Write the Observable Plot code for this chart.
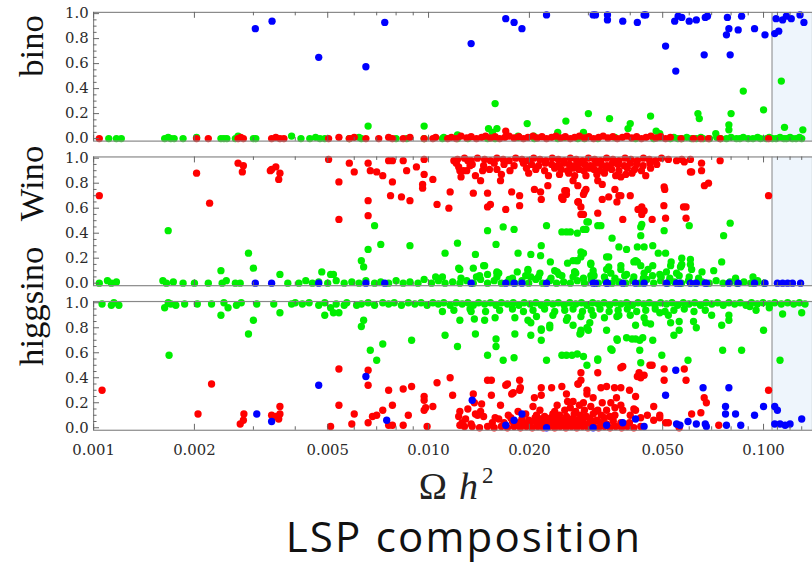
<!DOCTYPE html>
<html><head><meta charset="utf-8">
<script src="https://cdn.jsdelivr.net/npm/d3@7"></script>
<script src="https://cdn.jsdelivr.net/npm/@observablehq/plot@0.6"></script>
<style>
body{margin:0;background:#fff;}
#wrap{position:relative;width:812px;height:565px;overflow:hidden;background:#fff;}
#chart{position:absolute;left:0;top:0;width:812px;height:472px;overflow:hidden;}
#xlabel{position:absolute;left:356px;top:467px;width:200px;text-align:center;font-family:"Liberation Serif",serif;font-size:38px;line-height:38px;color:#222;white-space:nowrap;}
#xlabel span{display:inline-block;}
#xlabel .h{font-style:italic;margin-left:12px;}
#xlabel .sq{font-size:23px;position:relative;top:-16px;margin-left:4px;}
#caption{position:absolute;left:214px;top:515px;width:500px;text-align:center;font-family:"Open Sans",sans-serif;font-size:42px;line-height:42px;letter-spacing:2.2px;color:#111;white-space:nowrap;}
</style></head>
<body>
<div id="wrap">
<div id="chart"></div>
<div id="xlabel"><span>Ω</span><span class="h">h</span><span class="sq">2</span></div>
<div id="caption">LSP composition</div>
</div>
<script>
const panels = ["bino", "Wino", "higgsino"];
const seriesNames = ["higgsino-like", "Wino-like", "bino-like"];
const seriesColors = ["#00ee00", "#ff0000", "#0000ff"];
const xTickLabels = [0.001, 0.002, 0.005, 0.010, 0.020, 0.050, 0.100];
const xMinorTicks = [0.003, 0.004, 0.006, 0.007, 0.008, 0.009, 0.03, 0.04, 0.06, 0.07, 0.08, 0.09, 0.11, 0.12, 0.13];
const yTickLabels = [0, 0.2, 0.4, 0.6, 0.8, 1.0];
const yMinorTicks = [0.05, 0.1, 0.15, 0.25, 0.3, 0.35, 0.45, 0.5, 0.55, 0.65, 0.7, 0.75, 0.85, 0.9, 0.95];
const relicBand = [0.106, 0.14];

// ---- bino panel ----
const binoGreen = [[0.0066,0.10],[0.0097,0.10],[0.0158,0.28],[0.0151,0.08],[0.016,0.08],[0.0155,0.05],[0.0197,0.12],[0.0257,0.14],[0.030,0.20],[0.0243,0.05],[0.029,0.05],[0.0206,0.02],[0.0185,0.02],[0.0122,0.03],[0.0347,0.16],[0.040,0.12],[0.0394,0.08],[0.046,0.18],[0.0637,0.20],[0.0643,0.16],[0.080,0.20],[0.0788,0.11],[0.0788,0.07],[0.087,0.38],[0.100,0.23],[0.113,0.46],[0.1155,0.09],[0.131,0.07],[0.0478,0.06],[0.049,0.04],[0.072,0.04],[0.0027,0.02],[0.0039,0.02],
[0.00111,0.0],[0.00117,0.0],[0.00121,0.0],[0.00163,0.0],[0.00167,0.01],[0.0017,0.0],[0.00174,0.0],[0.00185,0.0],[0.00203,0.01],[0.0024,0.0],[0.00245,0.0],[0.0025,0.0],[0.00265,0.0],[0.003,0.0],[0.00305,0.0],
[0.00416,0.0],[0.00442,0.0],[0.0046,0.01],[0.00474,0.0],[0.0049,0.0],[0.0058,0.0],[0.0062,0.01],[0.0063,0.0],[0.008,0.0],[0.0086,0.0],[0.0097,0.0],[0.011,0.0],[0.0111,0.01],[0.0122,0.0],[0.0131,0.0],[0.015,0.0],[0.0158,0.0],[0.0185,0.01],[0.0207,0.0],[0.0243,0.0],[0.0255,0.01],[0.0279,0.0],[0.0292,0.0],
[0.032,0.0],[0.036,0.01],[0.0415,0.0],[0.047,0.0],[0.049,0.01],[0.0527,0.0],[0.054,0.01],[0.0555,0.0],[0.057,0.0],[0.059,0.01],[0.061,0.0],[0.063,0.0],[0.065,0.01],[0.066,0.0],[0.069,0.0],[0.0725,0.01],[0.0745,0.0],[0.0775,0.0],[0.080,0.01],[0.083,0.0],[0.085,0.0],[0.087,0.01],[0.090,0.0],[0.093,0.0],[0.096,0.01],[0.098,0.0],[0.102,0.0],[0.104,0.01],[0.1063,0.0],[0.109,0.0],[0.112,0.01],[0.115,0.0],[0.117,0.0],[0.120,0.01],[0.122,0.0],[0.125,0.0],[0.128,0.01],[0.130,0.0]];
const binoRed = [[0.00104,0.0],[0.00203,0.0],[0.0022,0.0],[0.0027,0.0],[0.00275,0.01],[0.0028,0.0],[0.0034,0.0],[0.0035,0.01],[0.0036,0.0],[0.0037,0.0],[0.017,0.06],
[0.00503,0.0],[0.0054,0.01],[0.0058,0.0],[0.006,0.01],[0.0065,0.0],[0.0071,0.0],[0.0076,0.01],[0.0078,0.0],[0.0084,0.0],[0.0088,0.01],[0.0097,0.0],[0.0103,0.0],[0.0105,0.01],[0.0114,0.0],
[0.0117,0.01],[0.0121,0.0],[0.0125,0.02],[0.013,0.005],[0.0134,0.015],[0.0139,0.0],[0.0144,0.01],[0.0148,0.02],[0.0153,0.005],[0.0158,0.015],[0.0163,0.0],[0.0169,0.01],[0.0174,0.02],[0.018,0.005],[0.0186,0.015],[0.0192,0.0],[0.0198,0.01],[0.0205,0.02],[0.0211,0.005],[0.0218,0.015],[0.0225,0.0],[0.0233,0.01],[0.024,0.02],[0.0248,0.005],[0.0256,0.015],[0.0265,0.0],[0.0273,0.01],[0.0282,0.02],[0.0292,0.005],[0.0301,0.015],[0.0311,0.0],[0.0322,0.01],[0.0332,0.02],[0.0343,0.005],[0.0355,0.015],[0.0366,0.0],[0.0379,0.01],[0.0391,0.02],[0.0404,0.005],[0.0418,0.015],[0.0432,0.0],[0.0446,0.01],[0.0461,0.02],[0.0477,0.005],[0.0493,0.015],[0.051,0.0],[0.0527,0.01],
[0.0567,0.0],[0.0618,0.0],[0.065,0.0],[0.0685,0.0],[0.0742,0.0],[0.1035,0.0]];
const binoBlue = [[0.00304,0.88],[0.00341,0.94],[0.0047,0.65],[0.0065,0.575],[0.0074,0.93],[0.0134,0.76],[0.017,0.96],[0.018,0.93],[0.019,0.88],[0.0225,0.99],[0.031,0.99],[0.0315,0.99],[0.0342,0.99],[0.0342,0.95],[0.038,0.94],[0.042,0.93],[0.044,0.99],[0.0445,0.99],[0.051,0.74],[0.0547,0.54],[0.0543,0.94],[0.0556,0.98],[0.057,0.97],[0.060,0.94],[0.063,0.95],[0.067,0.97],[0.068,0.98],[0.0665,0.67],[0.078,0.97],[0.0788,0.88],[0.0775,0.83],[0.0795,0.67],[0.084,0.87],[0.086,0.98],[0.094,0.88],[0.101,0.83],[0.108,0.84],[0.109,0.96],[0.111,0.86],[0.114,0.95],[0.117,0.98],[0.121,0.96],[0.1285,0.99],[0.132,0.93]];

// ---- Wino panel ----
const winoGreen = [[0.00104,0.0],[0.0011,0.02],[0.00113,0.0],[0.00117,0.01],[0.00161,0.02],[0.00167,0.42],[0.00165,0.0],[0.00173,0.01],[0.00185,0.0],[0.002,0.0],[0.0022,0.0],[0.0024,0.10],[0.00242,0.0],[0.00249,0.02],[0.00265,0.0],[0.00274,0.0],[0.0029,0.24],[0.003,0.12],[0.0036,0.07],[0.0038,0.0],
[0.0069,0.46],[0.0072,0.31],[0.0066,0.27],[0.0063,0.18],[0.0064,0.13],[0.0088,0.30],[0.0122,0.32],[0.0112,0.24],[0.0138,0.23],[0.015,0.42],[0.0159,0.31],[0.0167,0.45],[0.018,0.43],[0.0225,0.46],[0.0217,0.30],[0.0185,0.24],[0.0202,0.23],[0.0216,0.22],[0.0231,0.17],[0.025,0.41],[0.0258,0.41],[0.0265,0.41],[0.0278,0.40],[0.0297,0.49],[0.0295,0.43],[0.0285,0.25],[0.027,0.18],[0.026,0.16],[0.0305,0.15],[0.0048,0.09],[0.0051,0.07],[0.0052,0.07],[0.0123,0.12],[0.0136,0.12],[0.0146,0.14],[0.015,0.07],[0.016,0.08],[0.0162,0.08],[0.0184,0.09],[0.0198,0.10],[0.0202,0.05],[0.0242,0.09],[0.0285,0.21],[0.0278,0.18],[0.0273,0.09],[0.0305,0.06],
[0.029,0.43],[0.030,0.49],[0.0327,0.46],[0.0353,0.36],[0.037,0.29],[0.039,0.27],[0.042,0.29],[0.044,0.29],[0.043,0.38],[0.0433,0.47],[0.0467,0.30],[0.0485,0.24],[0.0505,0.42],[0.051,0.24],[0.060,0.46],[0.076,0.38],[0.0795,0.48],[0.075,0.17],[0.071,0.10],[0.057,0.20],[0.053,0.17],[0.029,0.24],[0.0277,0.18],[0.0305,0.16],[0.0345,0.21],[0.0345,0.13],[0.0375,0.14],[0.042,0.17],[0.043,0.14],[0.0467,0.14],[0.0528,0.14],[0.0568,0.14],[0.0605,0.15],[0.061,0.11],[0.0655,0.09],[0.0825,0.04],[0.093,0.05],[0.096,0.02],
[0.0124,0.11],[0.0147,0.14],[0.032,0.46],[0.034,0.21],[0.041,0.17],[0.043,0.45],[0.0565,0.13],[0.011,0.05],[0.0139,0.05],[0.016,0.09],[0.0174,0.03],[0.0198,0.11],[0.0238,0.10],[0.0273,0.09],[0.031,0.10],[0.034,0.11],[0.0375,0.11],[0.0415,0.18],[0.0452,0.11],[0.0513,0.09],[0.057,0.15],[0.0605,0.19],
[0.0041,0.0],[0.0043,0.02],[0.0045,0.0],[0.0047,0.01],[0.0050,0.0],[0.0053,0.02],[0.0056,0.0],[0.0059,0.01],[0.0062,0.0],[0.0065,0.02],[0.0069,0.0],[0.0072,0.01],[0.0076,0.0],[0.0080,0.02],[0.0084,0.0],[0.0088,0.01],[0.0093,0.0],[0.0097,0.03],[0.0102,0.0],[0.0107,0.02],[0.0112,0.0],[0.0118,0.01],[0.0124,0.0],[0.013,0.02],[0.0136,0.0],[0.0143,0.03],[0.015,0.0],[0.0157,0.02],[0.0165,0.0],[0.0173,0.01],[0.0181,0.0],[0.019,0.02],[0.0199,0.0],[0.0209,0.03],[0.0219,0.0],[0.023,0.02],[0.0241,0.0],[0.0253,0.01],[0.0265,0.0],[0.0278,0.02],[0.0292,0.0],[0.0306,0.03],[0.0321,0.0],[0.0337,0.02],[0.0353,0.0],[0.037,0.01],[0.0388,0.0],[0.0407,0.02],[0.0427,0.0],[0.0448,0.03],[0.047,0.0],[0.0493,0.02],[0.0517,0.0],[0.0542,0.01],[0.0569,0.0],[0.0597,0.02],[0.0626,0.0],[0.0656,0.01],[0.0688,0.0],[0.0722,0.02],[0.0757,0.0],[0.0794,0.01],[0.0833,0.0],[0.0874,0.01],[0.0916,0.0],[0.096,0.01],[0.1005,0.0],
[0.0105,0.05],[0.0125,0.04],[0.0142,0.06],[0.016,0.05],[0.0178,0.04],[0.0195,0.06],[0.0213,0.05],[0.0232,0.04],[0.025,0.06],[0.027,0.05],[0.029,0.04],[0.0312,0.06],[0.0335,0.05],[0.036,0.04],[0.0385,0.06],[0.041,0.05],[0.0438,0.04],[0.0466,0.06],[0.0495,0.05],[0.0525,0.04],[0.056,0.06],[0.060,0.05],[0.064,0.04],
[0.0215,0.08],[0.0245,0.07],[0.0275,0.08],[0.031,0.07],[0.035,0.08],[0.039,0.07],[0.044,0.08],[0.049,0.07],[0.055,0.08]];
const winoRed = [[0.00104,0.70],[0.00203,0.88],[0.00222,0.64],[0.0027,0.96],[0.0028,0.94],[0.00278,0.89],[0.00337,0.90],[0.0034,0.91],[0.0035,0.93],[0.0036,0.88],[0.00357,0.83],
[0.00503,0.99],[0.0058,0.96],[0.0066,0.96],[0.006,0.89],[0.0054,0.81],[0.0054,0.51],[0.0067,0.90],[0.007,0.89],[0.0073,0.86],[0.0066,0.66],[0.0066,0.54],[0.0076,0.98],[0.0078,0.98],[0.0078,0.81],[0.0077,0.70],[0.0084,0.98],[0.0086,0.90],[0.0083,0.69],[0.0088,0.66],[0.0092,0.93],[0.0097,0.99],[0.0097,0.87],[0.0096,0.79],[0.0096,0.76],[0.0103,0.83],[0.0106,0.63],[0.0115,0.60],[0.0116,0.73],
[0.0119,0.98],[0.0121,0.96],[0.0123,0.93],[0.0127,0.90],[0.0131,0.98],[0.0133,0.94],[0.0124,0.90],[0.0125,0.85],[0.013,0.90],[0.0136,0.72],[0.0138,0.86],[0.0143,0.82],[0.0145,0.90],[0.015,0.72],[0.015,0.61],[0.0153,0.63],[0.0164,0.82],[0.016,0.91],[0.017,0.59],[0.0177,0.73],[0.0187,0.70],[0.0187,0.62],[0.0207,0.75],[0.0216,0.73],[0.0217,0.67],[0.0227,0.78],[0.0252,0.67],[0.0258,0.74],[0.0279,0.65],[0.0285,0.55],[0.0292,0.73],
[0.057,0.99],[0.058,0.97],[0.0653,0.96],[0.0653,0.90],[0.061,0.89],[0.0742,0.98],[0.0685,0.80],[0.0666,0.78],[0.0507,0.75],[0.1035,0.70],[0.0504,0.62],[0.0587,0.61],[0.051,0.52],[0.0587,0.52],[0.0465,0.51],[0.038,0.51],[0.0433,0.61],[0.044,0.58],[0.0422,0.59],[0.0433,0.55],[0.040,0.70],[0.036,0.75],[0.037,0.70],[0.0375,0.70],[0.0365,0.65],[0.033,0.67],[0.0345,0.69],[0.032,0.56],[0.029,0.55],[0.028,0.65],[0.025,0.68],[0.0255,0.74],[0.029,0.71],[0.0295,0.75],[0.032,0.82],[0.033,0.79],[0.0375,0.85],
[0.0273,0.86],[0.027,0.82],[0.0279,0.78],[0.0258,0.71],[0.025,0.69],[0.028,0.65],[0.0285,0.61],[0.0505,0.77],[0.0577,0.61],[0.0605,0.89],
[0.0122,0.99],[0.0128,1.0],[0.0134,0.98],[0.014,1.0],[0.0147,0.99],[0.0153,0.98],[0.016,1.0],[0.0167,0.99],[0.0174,0.98],[0.0182,1.0],[0.019,0.99],[0.0198,0.98],[0.0206,1.0],[0.0215,0.99],[0.0224,0.98],[0.0234,1.0],[0.0244,0.99],[0.0254,0.98],[0.0265,1.0],[0.0276,0.99],[0.0288,0.98],[0.030,1.0],[0.0313,0.99],[0.0326,0.98],[0.034,1.0],[0.0355,0.99],[0.037,0.98],[0.0386,1.0],[0.0402,0.99],[0.042,0.98],[0.0438,1.0],[0.0456,0.99],[0.0476,0.98],[0.0496,1.0],[0.052,0.99],[0.055,0.98],[0.0605,0.99],
[0.0135,0.95],[0.0146,0.94],[0.0157,0.96],[0.0168,0.95],[0.018,0.94],[0.0192,0.96],[0.0203,0.95],[0.0213,0.94],[0.0223,0.96],[0.0233,0.95],[0.0243,0.94],[0.0253,0.96],[0.0263,0.95],[0.0273,0.94],[0.0283,0.96],[0.0293,0.95],[0.0304,0.94],[0.0316,0.96],[0.0328,0.95],[0.0341,0.94],[0.0354,0.96],[0.0368,0.95],[0.0384,0.94],[0.040,0.96],[0.0418,0.95],[0.0437,0.94],[0.0458,0.96],[0.048,0.95],
[0.0152,0.91],[0.0175,0.90],[0.0196,0.92],[0.0209,0.91],[0.0222,0.90],[0.0238,0.92],[0.0249,0.91],[0.026,0.90],[0.027,0.92],[0.0281,0.91],[0.0291,0.90],[0.0302,0.92],[0.0312,0.91],[0.0324,0.90],[0.0338,0.92],[0.0352,0.91],[0.037,0.90],[0.0392,0.92],[0.0412,0.91],[0.0432,0.90],[0.046,0.92],
[0.0165,0.87],[0.0199,0.88],[0.0228,0.86],[0.0246,0.87],[0.0262,0.88],[0.0295,0.86],[0.0318,0.87],[0.0335,0.88],[0.0362,0.86],[0.0388,0.87],[0.0405,0.88],[0.0445,0.86]];
const winoBlue = [[0.00304,0.0],[0.0034,0.0],[0.0047,0.0],[0.0065,0.0],[0.0074,0.0],[0.0134,0.0],[0.017,0.0],[0.018,0.0],[0.019,0.0],[0.0225,0.0],[0.031,0.0],[0.0315,0.0],[0.034,0.0],[0.0342,0.0],[0.038,0.0],[0.0415,0.0],[0.044,0.0],[0.0513,0.0],[0.055,0.0],[0.0563,0.0],[0.0605,0.0],[0.063,0.0],[0.067,0.0],[0.0675,0.0],[0.0788,0.0],[0.084,0.0],[0.094,0.0],[0.101,0.0],[0.11,0.0],[0.114,0.0],[0.118,0.0],[0.122,0.0],[0.129,0.0]];

// ---- higgsino panel ----
const higgsinoGreen = [[0.00106,0.99],[0.00113,0.98],[0.00115,1.0],[0.00119,0.98],[0.00163,0.96],[0.00167,1.0],[0.0017,0.99],[0.00176,0.98],[0.00187,0.99],[0.00168,0.58],[0.00204,0.99],[0.00225,0.99],[0.00245,1.0],[0.00252,0.96],[0.0024,0.90],[0.00267,0.98],[0.00276,1.0],[0.0029,0.75],[0.003,0.86],[0.00307,0.99],[0.00345,0.99],[0.0036,0.92],[0.0039,0.99],
[0.0049,0.90],[0.0052,0.92],[0.0054,0.92],[0.0051,0.96],[0.0056,0.98],[0.0061,0.98],[0.0064,0.86],[0.0063,0.81],[0.0073,0.67],[0.0067,0.62],[0.007,0.54],[0.0089,0.70],[0.0112,0.74],[0.0122,0.65],[0.0124,0.86],[0.0138,0.75],[0.0137,0.87],[0.0147,0.86],[0.015,0.58],[0.0159,0.71],[0.0159,0.65],[0.0167,0.54],[0.018,0.56],[0.0202,0.74],[0.0217,0.78],[0.0217,0.70],[0.023,0.82],[0.0225,0.54],[0.025,0.58],[0.0258,0.58],[0.0268,0.58],[0.0278,0.59],[0.029,0.57],[0.0297,0.50],[0.0285,0.78],[0.0285,0.76],[0.030,0.78],[0.0303,0.84],[0.0258,0.86],[0.027,0.82],[0.0202,0.84],[0.0181,0.88],[0.0198,0.86],[0.0158,0.88],[0.011,0.93],[0.0134,0.93],
[0.0283,0.75],[0.0297,0.80],[0.034,0.78],[0.0366,0.70],[0.039,0.72],[0.0415,0.71],[0.0427,0.70],[0.0436,0.72],[0.0467,0.70],[0.046,0.83],[0.0415,0.82],[0.0528,0.84],[0.056,0.78],[0.056,0.85],[0.063,0.80],[0.0353,0.62],[0.032,0.54],[0.0427,0.62],[0.043,0.52],[0.0497,0.58],[0.0595,0.54],[0.0755,0.62],[0.086,0.62],[0.0788,0.90],[0.0788,0.86],[0.075,0.82],[0.100,0.78],[0.114,0.91],[0.112,0.54],[0.13,0.92],[0.104,0.96],[0.095,0.94],[0.091,0.97],[0.070,0.90],[0.0618,0.85],[0.052,0.90],[0.049,0.92],
[0.0181,0.75],[0.0217,0.79],[0.023,0.80],[0.032,0.55],[0.035,0.63],[0.037,0.90],[0.054,0.74],[0.0365,0.71],[0.0405,0.71],[0.0445,0.84],
[0.0040,1.0],[0.0042,0.99],[0.0044,1.0],[0.0047,0.98],[0.0049,1.0],[0.0053,0.99],[0.0057,1.0],[0.0063,0.99],[0.0066,1.0],[0.0069,0.98],[0.0073,1.0],[0.0076,0.99],[0.0079,1.0],[0.0083,0.98],[0.0087,1.0],[0.0091,0.99],[0.0095,1.0],[0.0099,0.98],[0.0103,1.0],[0.0107,0.99],[0.0111,1.0],[0.0116,0.98],[0.0121,1.0],[0.0126,0.99],[0.0131,1.0],[0.0136,0.98],[0.0141,1.0],[0.0147,0.99],[0.0153,1.0],[0.0159,0.98],[0.0165,1.0],[0.0172,0.99],[0.0179,1.0],[0.0186,0.98],[0.0193,1.0],[0.0201,0.99],[0.0209,1.0],[0.0217,0.98],[0.0226,1.0],[0.0235,0.99],[0.0244,1.0],[0.0254,0.98],[0.0264,1.0],[0.0275,0.99],[0.0286,1.0],[0.0297,0.98],[0.0309,1.0],[0.0321,0.99],[0.0334,1.0],[0.0347,0.98],[0.0361,1.0],[0.0375,0.99],[0.039,1.0],[0.0406,0.98],[0.0422,1.0],[0.0439,0.99],[0.0456,1.0],[0.0474,0.98],[0.0493,1.0],[0.0513,0.99],[0.0533,1.0],[0.0554,0.98],[0.0576,1.0],[0.0599,0.99],[0.0623,1.0],[0.0648,0.98],[0.0674,1.0],[0.0701,0.99],[0.0729,1.0],[0.0758,0.98],[0.0788,1.0],[0.082,0.99],[0.0852,1.0],[0.0886,0.98],[0.0921,1.0],[0.0958,0.99],[0.0996,1.0],[0.104,0.99],[0.108,1.0],[0.113,0.99],[0.118,1.0],[0.123,0.99],[0.128,1.0],[0.133,0.99],
[0.0119,0.94],[0.0133,0.95],[0.0148,0.93],[0.0163,0.94],[0.0178,0.95],[0.0192,0.93],[0.0205,0.94],[0.0222,0.95],[0.0238,0.93],[0.0255,0.94],[0.027,0.95],[0.0288,0.93],[0.0306,0.94],[0.0325,0.95],[0.0346,0.93],[0.0368,0.94],[0.0392,0.95],[0.0418,0.93],[0.0445,0.94],[0.0475,0.95],[0.0508,0.93],[0.054,0.94],[0.058,0.95],[0.062,0.93],[0.067,0.94],
[0.021,0.89],[0.0235,0.90],[0.026,0.88],[0.0285,0.89],[0.031,0.90],[0.0335,0.88],[0.0365,0.89],[0.040,0.90],[0.044,0.88]];
const higgsinoRed = [[0.00106,0.30],[0.00225,0.35],[0.00205,0.11],[0.00274,0.03],[0.0028,0.06],[0.00281,0.11],[0.0034,0.10],[0.0035,0.09],[0.0036,0.17],[0.0036,0.11],[0.00357,0.07],
[0.0054,0.47],[0.0054,0.18],[0.0051,0.01],[0.006,0.11],[0.0059,0.03],[0.0066,0.46],[0.0066,0.34],[0.0066,0.04],[0.0068,0.09],[0.007,0.10],[0.0073,0.14],[0.0076,0.30],[0.0078,0.18],[0.0076,0.02],[0.0078,0.02],[0.0084,0.31],[0.0087,0.10],[0.0089,0.33],[0.0084,0.02],[0.0097,0.25],[0.0097,0.22],[0.0098,0.16],[0.0097,0.14],[0.0103,0.17],[0.0099,0.01],[0.0106,0.36],[0.0116,0.40],[0.0118,0.26],[0.0123,0.09],[0.0124,0.02],[0.0129,0.07],[0.0131,0.15],[0.0136,0.27],[0.0137,0.20],[0.014,0.10],[0.0144,0.19],[0.015,0.38],[0.0154,0.38],[0.0146,0.09],[0.0154,0.26],[0.0158,0.08],[0.0164,0.18],[0.017,0.34],[0.0177,0.27],[0.0187,0.38],[0.0188,0.32],[0.0217,0.32],[0.0217,0.26],[0.0207,0.24],[0.025,0.33],[0.0258,0.27],[0.0279,0.35],[0.0285,0.38],[0.0297,0.30],[0.027,0.21],[0.029,0.20],
[0.028,0.35],[0.0285,0.44],[0.0297,0.27],[0.032,0.44],[0.0327,0.32],[0.034,0.33],[0.0359,0.32],[0.0364,0.24],[0.038,0.49],[0.0375,0.32],[0.0398,0.30],[0.042,0.41],[0.0425,0.44],[0.043,0.40],[0.044,0.42],[0.0465,0.50],[0.0505,0.47],[0.0505,0.38],[0.058,0.47],[0.0587,0.38],[0.0665,0.24],[0.0675,0.20],[0.061,0.11],[0.065,0.12],[0.1035,0.30],[0.0735,0.02],[0.049,0.08],[0.047,0.06],[0.0415,0.14],[0.0375,0.18],[0.036,0.16],[0.032,0.14],[0.031,0.24],[0.033,0.20],[0.040,0.10],[0.045,0.10],[0.036,0.10],[0.0557,0.02],[0.052,0.04],
[0.0172,0.35],[0.0179,0.28],[0.0187,0.30],[0.0233,0.32],[0.026,0.21],[0.0375,0.48],[0.0458,0.50],[0.0415,0.25],[0.035,0.20],[0.038,0.14],[0.041,0.15],[0.043,0.08],[0.047,0.17],[0.049,0.10],[0.051,0.04],[0.056,0.0],[0.0143,0.13],[0.0138,0.11],[0.0124,0.13],[0.0126,0.04],[0.0134,0.03],
[0.0128,0.01],[0.0135,0.01],[0.0142,0.0],[0.015,0.01],[0.0157,0.0],[0.0165,0.01],[0.0172,0.0],[0.018,0.01],[0.0188,0.0],[0.0196,0.01],[0.0204,0.0],[0.0212,0.01],[0.022,0.0],[0.0229,0.01],[0.0238,0.0],[0.0247,0.01],[0.0257,0.0],[0.0267,0.01],[0.0277,0.0],[0.0288,0.01],[0.0299,0.0],[0.031,0.01],[0.0322,0.0],[0.0335,0.01],[0.0348,0.0],[0.0362,0.01],[0.0377,0.0],[0.0392,0.01],[0.041,0.0],[0.043,0.01],
[0.0155,0.04],[0.0168,0.04],[0.0178,0.05],[0.0186,0.04],[0.0194,0.03],[0.0202,0.05],[0.021,0.04],[0.0218,0.03],[0.0226,0.05],[0.0234,0.04],[0.0243,0.03],[0.0252,0.05],[0.0261,0.04],[0.027,0.03],[0.028,0.05],[0.029,0.04],[0.0301,0.03],[0.0313,0.05],[0.0326,0.04],[0.034,0.03],[0.0356,0.05],[0.0375,0.04],[0.0398,0.04],
[0.0162,0.07],[0.0176,0.08],[0.019,0.07],[0.0199,0.06],[0.0208,0.08],[0.0216,0.07],[0.0224,0.06],[0.0232,0.08],[0.024,0.07],[0.0249,0.06],[0.0258,0.08],[0.0268,0.07],[0.0278,0.06],[0.029,0.08],[0.0303,0.07],[0.0318,0.06],[0.0335,0.08],[0.0355,0.07],
[0.0173,0.10],[0.0195,0.11],[0.021,0.10],[0.0222,0.09],[0.0235,0.11],[0.0246,0.10],[0.0258,0.09],[0.0272,0.11],[0.0284,0.10],[0.0296,0.09],[0.031,0.11],[0.0328,0.10],[0.0348,0.09],
[0.0185,0.13],[0.0215,0.14],[0.0238,0.13],[0.0255,0.14],[0.0275,0.13],[0.0292,0.14],[0.0315,0.13],[0.034,0.14],
[0.0205,0.17],[0.0242,0.18],[0.0265,0.16],[0.0282,0.18],[0.0305,0.17]];
const higgsinoBlue = [[0.00307,0.11],[0.0034,0.05],[0.0047,0.34],[0.0065,0.41],[0.0075,0.06],[0.0135,0.22],[0.017,0.02],[0.018,0.06],[0.019,0.11],[0.0225,0.0],[0.031,0.0],[0.034,0.02],[0.038,0.04],[0.0415,0.07],[0.044,0.01],[0.051,0.26],[0.0547,0.46],[0.055,0.03],[0.0563,0.02],[0.0595,0.05],[0.063,0.03],[0.066,0.32],[0.067,0.03],[0.0675,0.01],[0.077,0.17],[0.077,0.11],[0.0788,0.32],[0.0775,0.02],[0.0825,0.11],[0.0855,0.02],[0.094,0.10],[0.100,0.17],[0.108,0.17],[0.110,0.14],[0.108,0.03],[0.112,0.03],[0.116,0.02],[0.12,0.03],[0.13,0.07]];

// ---- build table (draw order: green, red, blue) ----
const rows = [];
function add(panel, series, arr) { for (const [x, y] of arr) rows.push({panel, series, x, y}); }
add("bino", "higgsino-like", binoGreen);
add("Wino", "higgsino-like", winoGreen);
add("higgsino", "higgsino-like", higgsinoGreen);
add("bino", "Wino-like", binoRed);
add("Wino", "Wino-like", winoRed);
add("higgsino", "Wino-like", higgsinoRed);
add("bino", "bino-like", binoBlue);
add("Wino", "bino-like", winoBlue);
add("higgsino", "bino-like", higgsinoBlue);

const W = 820, H = 472, mL = 94, mT = 12, mB = 38, bandH = 130, gap = 16;
const plotW = W - mL;
const bottomPanel = panels[panels.length - 1];

const chart = Plot.plot({
  width: W, height: H,
  marginLeft: mL, marginRight: 0, marginTop: mT, marginBottom: mB,
  style: {fontFamily: "DejaVu Serif", fontSize: "15px", color: "#2a2a2a", background: "transparent"},
  x: {type: "log", domain: [0.001, relicBand[1]], axis: null},
  y: {domain: [-0.02, 1.01], axis: null},
  fy: {domain: panels, paddingInner: gap / (bandH + gap), paddingOuter: 0, axis: null},
  color: {domain: seriesNames, range: seriesColors},
  marks: [
    Plot.rect([relicBand], {x1: d => d[0], x2: d => d[1], fill: "#eef5fc"}),
    Plot.ruleX([relicBand[0]], {stroke: "#999", strokeWidth: 1.2}),
    Plot.dot(rows, {x: "x", y: "y", fy: "panel", fill: "series", r: 3.7, stroke: "none"}),
    Plot.frame({stroke: "#888", strokeWidth: 1.2}),
    Plot.tickX(xTickLabels, {x: d => d, insetBottom: bandH - 6, stroke: "#666"}),
    Plot.tickX(xTickLabels, {x: d => d, insetTop: bandH - 6, stroke: "#666"}),
    Plot.tickX(xMinorTicks, {x: d => d, insetBottom: bandH - 3.5, stroke: "#666"}),
    Plot.tickX(xMinorTicks, {x: d => d, insetTop: bandH - 3.5, stroke: "#666"}),
    Plot.tickY(yTickLabels, {y: d => d, insetRight: plotW - 6, stroke: "#666"}),
    Plot.tickY(yMinorTicks, {y: d => d, insetRight: plotW - 3.5, stroke: "#666"}),
    Plot.text(yTickLabels, {y: d => d, text: d => d.toFixed(1), frameAnchor: "left", textAnchor: "end", dx: -5, fontSize: 15, fontFamily: "DejaVu Serif", fill: "#2a2a2a"}),
    Plot.text(xTickLabels, {x: d => d, fy: () => bottomPanel, text: d => d.toFixed(3), frameAnchor: "bottom", lineAnchor: "top", dy: 14, fontSize: 15, fontFamily: "DejaVu Serif", fill: "#2a2a2a"}),
    Plot.text(panels, {fy: d => d, text: d => d, frameAnchor: "left", rotate: -90, dx: -62, fontSize: 35, fontFamily: "Liberation Serif", fill: "#111"})
  ]
});
document.getElementById("chart").appendChild(chart);
</script>
</body></html>
